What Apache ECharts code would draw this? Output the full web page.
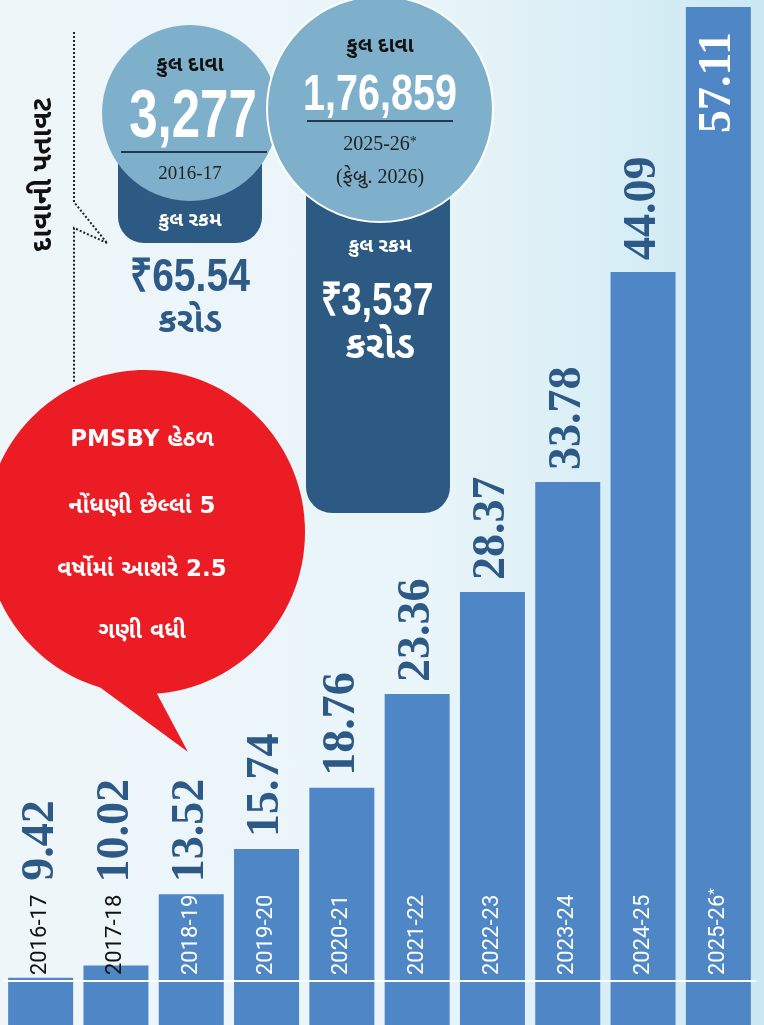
<!DOCTYPE html>
<html>
<head>
<meta charset="utf-8">
<script src="https://cdn.jsdelivr.net/npm/echarts@6/dist/echarts.min.js"></script>
<style>
  html, body { margin: 0; padding: 0; }
  #chart {
    width: 764px; height: 1025px;
    background: linear-gradient(90deg, #eff6fa 0%, #e9f5f9 55%, #cbe8f2 100%);
  }
</style>
</head>
<body>
<div id="chart"></div>
<script>
  // data
  var years = ['2016-17', '2017-18', '2018-19', '2019-20', '2020-21',
               '2021-22', '2022-23', '2023-24', '2024-25', '2025-26*'];
  var enrolment = [9.42, 10.02, 13.52, 15.74, 18.76, 23.36, 28.37, 33.78, 44.09, 57.11];
  var baseLine = 9.26;

  var claims = { first: '3,277', last: '1,76,859' };
  var amount = { first: '₹65.54', last: '₹3,537' };

  var chart = echarts.init(document.getElementById('chart'));

  var numFont = "'Liberation Sans', Arial, sans-serif";
  var gujFont = "'Noto Sans Gujarati', 'Noto Sans', sans-serif";
  var bubbleFont = "bold 23px 'DejaVu Sans', 'Noto Sans Gujarati', sans-serif";
  var valueColor = '#2c5985';
  var boxColor = '#2d5a82';
  var circleColor = '#7fb0cb';

  var barData = enrolment.map(function (v, i) {
    var item = { value: v };
    if (i === enrolment.length - 1) {
      item.label = { position: 'insideTop', align: 'right', distance: 25, color: '#fff' };
    } else if (i === 0) {
      item.label = { distance: 97 };
    } else if (i === 1) {
      item.label = { distance: 83 };
    }
    return item;
  });

  function txt(text, x, y, font, fill, extra) {
    var el = {
      type: 'text', x: x, y: y, z: 100,
      style: { text: text, font: font, fill: fill, align: 'center', verticalAlign: 'middle' }
    };
    if (extra) { Object.assign(el, extra); }
    return el;
  }

  var option = {
    animation: false,
    grid: { left: 3, right: 8, top: 7, bottom: 0 },
    xAxis: {
      type: 'category',
      data: years,
      z: 10,
      axisLine: { show: false },
      axisTick: { show: false },
      axisLabel: {
        inside: true,
        rotate: 90,
        margin: 50,
        interval: 0,
        fontFamily: 'Roboto',
        fontSize: 22,
        color: function (v, i) { return i < 2 ? '#111' : '#fff'; },
        formatter: function (v) { return v.replace('*', '{sup|*}'); },
        rich: { sup: { fontSize: 15, color: '#fff', verticalAlign: 'top', fontFamily: 'Roboto' } }
      }
    },
    yAxis: { type: 'value', min: 7.1, max: 57.11, show: false, splitLine: { show: false } },
    series: [{
      type: 'bar',
      data: barData,
      barWidth: 65,
      itemStyle: { color: '#4f86c5' },
      label: {
        show: true,
        position: 'top',
        rotate: 90,
        align: 'left',
        verticalAlign: 'middle',
        distance: 12,
        fontFamily: "'Liberation Serif', 'DejaVu Serif', serif",
        fontWeight: 'bold',
        fontSize: 46,
        color: valueColor
      },
      markLine: {
        silent: true,
        symbol: 'none',
        label: { show: false },
        lineStyle: { color: '#fff', width: 2, type: 'solid' },
        data: [{ yAxis: baseLine }]
      }
    }],
    graphic: [
      // dotted bracket
      { type: 'polyline', z: 90, shape: { points: [[74, 32], [74, 202], [107, 243]] },
        style: { stroke: '#222', lineWidth: 2, lineDash: [2, 2], fill: null } },
      { type: 'polyline', z: 90, shape: { points: [[107, 243], [74, 228], [74, 383]] },
        style: { stroke: '#222', lineWidth: 2, lineDash: [2, 2], fill: null } },
      txt('દાવાની પતાવટ', 46, 175, 'bold 28px ' + gujFont, '#111', { rotation: Math.PI / 2 }),

      // 2016-17 box
      { type: 'rect', z: 80, shape: { x: 118, y: 120, width: 144, height: 123, r: [0, 0, 26, 26] },
        style: { fill: boxColor } },
      { type: 'circle', z: 85, shape: { cx: 190, cy: 113, r: 88 }, style: { fill: circleColor } },
      txt('કુલ દાવા', 190, 67, 'bold 21px ' + gujFont, '#111'),
      txt(claims.first, 193, 118, 'bold 68px ' + numFont, '#fff', { scaleX: 0.75 }),
      { type: 'line', z: 100, shape: { x1: 121, y1: 152, x2: 267, y2: 152 },
        style: { stroke: '#23384a', lineWidth: 2 } },
      txt('2016-17', 190, 174, "19px 'Liberation Serif', serif", '#222'),
      txt('કુલ રકમ', 190, 222, 'bold 20px ' + gujFont, '#fff'),
      txt(amount.first, 190, 278, 'bold 46px ' + numFont, '#2d5a87', { scaleX: 0.85 }),
      txt('કરોડ', 190, 325, 'bold 35px ' + gujFont, '#2d5a87'),

      // 2025-26 box
      { type: 'rect', z: 80, shape: { x: 306, y: 150, width: 144, height: 363, r: [0, 0, 26, 26] },
        style: { fill: boxColor } },
      { type: 'circle', z: 86, shape: { cx: 380, cy: 109, r: 113 },
        style: { fill: circleColor, stroke: '#fff', lineWidth: 2 } },
      txt('કુલ દાવા', 380, 48, 'bold 21px ' + gujFont, '#111'),
      txt(claims.last, 380, 96, 'bold 50px ' + numFont, '#fff', { scaleX: 0.79 }),
      { type: 'line', z: 100, shape: { x1: 307, y1: 121, x2: 453, y2: 121 },
        style: { stroke: '#23384a', lineWidth: 2 } },
      { type: 'text', x: 380, y: 145, z: 100,
        style: { text: '2025-26{s|*}', font: "20px 'Liberation Serif', serif", fill: '#222',
                 align: 'center', verticalAlign: 'middle',
                 rich: { s: { fontSize: 14, verticalAlign: 'top', fill: '#222', fontFamily: 'Liberation Serif' } } } },
      txt('(ફેબ્રુ. 2026)', 380, 178, "20px 'Liberation Serif', " + gujFont, '#222'),
      txt('કુલ રકમ', 380, 248, 'bold 20px ' + gujFont, '#fff'),
      txt(amount.last, 377, 302, 'bold 46px ' + numFont, '#fff', { scaleX: 0.8 }),
      txt('કરોડ', 380, 351, 'bold 38px ' + gujFont, '#fff'),

      // red bubble
      { type: 'ellipse', z: 90, shape: { cx: 145, cy: 532, rx: 160, ry: 162 }, style: { fill: '#ec1c24' } },
      { type: 'polygon', z: 90, shape: { points: [[90, 680], [188, 752], [155, 690]] }, style: { fill: '#ec1c24' } },
      txt('PMSBY હેઠળ', 142, 440, bubbleFont, '#fff'),
      txt('નોંધણી છેલ્લાં 5', 142, 507, bubbleFont, '#fff'),
      txt('વર્ષોમાં આશરે 2.5', 142, 570, bubbleFont, '#fff'),
      txt('ગણી વધી', 142, 632, bubbleFont, '#fff')
    ]
  };

  chart.setOption(option);
</script>
</body>
</html>
